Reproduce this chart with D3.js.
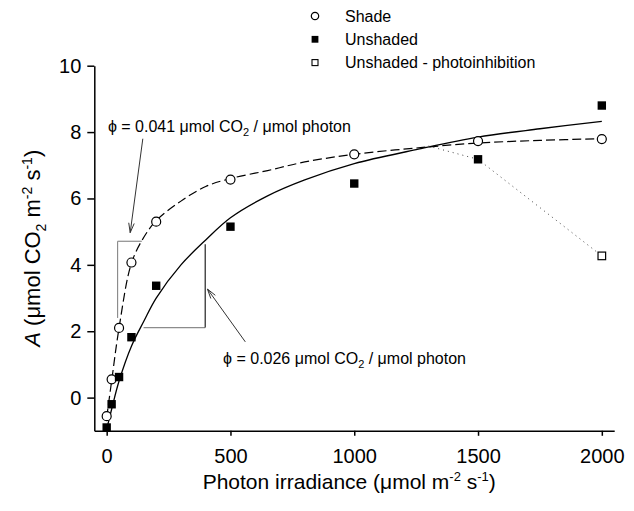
<!DOCTYPE html>
<html>
<head>
<meta charset="utf-8">
<script src="https://cdn.jsdelivr.net/npm/d3@7"></script>
<style>
  body { margin: 0; background: #fff; }
  text { font-family: "Liberation Sans", Arial, sans-serif; fill: #000; }
</style>
</head>
<body>
<script>
// measured points
const irradiance = [0, 20, 50, 100, 200, 500, 1000, 1500, 2000];
const shadeA     = [-0.56, 0.55, 2.1, 4.07, 5.3, 6.57, 7.33, 7.73, 7.79];
const unshadedA  = [-0.9, -0.2, 0.62, 1.82, 3.37, 5.15, 6.45, 7.18, 8.8];
const inhibX = [2000];
const inhibA = [4.27];

// fitted curves
const fitX        = [0, 20, 50, 100, 150, 200, 300, 400, 500, 650, 800, 1000, 1250, 1500, 1750, 2000];
const shadeFit    = [-0.6, 0.5, 2.1, 4.05, 4.83, 5.33, 5.92, 6.36, 6.6, 6.84, 7.1, 7.33, 7.52, 7.67, 7.75, 7.8];
const unshadedFit = [-0.95, -0.35, 0.5, 1.55, 2.3, 3.0, 4.0, 4.75, 5.42, 6.08, 6.56, 7.05, 7.47, 7.85, 8.1, 8.32];

// photoinhibition dotted line
const inhibLineX = [1300, 1500, 2000];
const inhibLineA = [7.58, 7.18, 4.27];

const xTicks = [0, 500, 1000, 1500, 2000];
const yTicks = [0, 2, 4, 6, 8, 10];

const W = 634, H = 511;
const margin = { top: 65.7, right: 19.8, bottom: 80.2, left: 94.3 };

const svg = d3.select("body").append("svg")
    .attr("width", W)
    .attr("height", H);

const x = d3.scaleLinear().domain([-50, 2050]).range([margin.left, W - margin.right]);
const y = d3.scaleLinear().domain([-1, 10]).range([H - margin.bottom, margin.top]);

// axes
svg.append("g")
    .attr("transform", "translate(0," + (H - margin.bottom) + ")")
    .call(d3.axisBottom(x).tickValues(xTicks).tickFormat(d3.format("d"))
        .tickSize(5).tickSizeOuter(0).tickPadding(13))
    .call(g => g.selectAll("path,line").attr("stroke", "#000").attr("stroke-width", 1.5))
    .call(g => g.selectAll("text").attr("font-size", 20).attr("font-family", "Liberation Sans, Arial, sans-serif"));

svg.append("g")
    .attr("transform", "translate(" + margin.left + ",0)")
    .call(d3.axisLeft(y).tickValues(yTicks).tickFormat(d3.format("d"))
        .tickSize(7).tickSizeOuter(0).tickPadding(6))
    .call(g => g.selectAll("path,line").attr("stroke", "#000").attr("stroke-width", 1.5))
    .call(g => g.selectAll("text").attr("font-size", 20).attr("font-family", "Liberation Sans, Arial, sans-serif"));

// axis titles
const xt = svg.append("text")
    .attr("x", x(1000) - 5)
    .attr("y", 489)
    .attr("text-anchor", "middle")
    .attr("font-size", 21);
xt.append("tspan").text("Photon irradiance (μmol m");
xt.append("tspan").attr("font-size", 13).attr("dy", -8).text("-2");
xt.append("tspan").attr("dy", 8).text(" s");
xt.append("tspan").attr("font-size", 13).attr("dy", -8).text("-1");
xt.append("tspan").attr("dy", 8).text(")");

const yt = svg.append("text")
    .attr("transform", "translate(40," + y(4.5) + ") rotate(-90)")
    .attr("text-anchor", "middle")
    .attr("font-size", 22);
yt.append("tspan").attr("font-style", "italic").text("A");
yt.append("tspan").text(" (μmol CO");
yt.append("tspan").attr("font-size", 14).attr("dy", 6).text("2");
yt.append("tspan").attr("dy", -6).text(" m");
yt.append("tspan").attr("font-size", 14).attr("dy", -8).text("-2");
yt.append("tspan").attr("dy", 8).text(" s");
yt.append("tspan").attr("font-size", 14).attr("dy", -8).text("-1");
yt.append("tspan").attr("dy", 8).text(")");

// slope triangles
const grey = "#8c8c8c";
const seg = (x1, y1, x2, y2, col) => svg.append("line")
    .attr("x1", x(x1)).attr("y1", y(y1)).attr("x2", x(x2)).attr("y2", y(y2))
    .attr("stroke", col).attr("stroke-width", 1.2);
seg(44, 2.4, 44, 4.71, grey);
seg(44, 4.71, 142, 4.71, grey);
seg(149, 2.11, 398, 2.11, grey);
seg(398, 2.11, 398, 4.62, "#222");

// curves
const line = d3.line().x(d => x(d[0])).y(d => y(d[1])).curve(d3.curveCatmullRom.alpha(0.5));

svg.append("path")
    .attr("d", line(d3.zip(fitX, shadeFit)))
    .attr("fill", "none").attr("stroke", "#000").attr("stroke-width", 1.2)
    .attr("stroke-dasharray", "9,4");

svg.append("path")
    .attr("d", line(d3.zip(fitX, unshadedFit)))
    .attr("fill", "none").attr("stroke", "#000").attr("stroke-width", 1.3);

svg.append("path")
    .attr("d", d3.line().x(d => x(d[0])).y(d => y(d[1]))(d3.zip(inhibLineX, inhibLineA)))
    .attr("fill", "none").attr("stroke", "#444").attr("stroke-width", 1)
    .attr("stroke-dasharray", "1,4");

// arrows
function arrow(x1, y1, x2, y2) {
    const ang = Math.atan2(y2 - y1, x2 - x1), L = 10, a = 0.28;
    svg.append("line").attr("x1", x1).attr("y1", y1).attr("x2", x2).attr("y2", y2)
        .attr("stroke", "#333").attr("stroke-width", 1);
    [ang + a, ang - a].forEach(t => svg.append("line")
        .attr("x1", x2).attr("y1", y2)
        .attr("x2", x2 - L * Math.cos(t)).attr("y2", y2 - L * Math.sin(t))
        .attr("stroke", "#333").attr("stroke-width", 1));
}
arrow(x(146), y(7.8), x(95), y(4.97));
arrow(x(560), y(1.68), x(407), y(3.27));

// annotations
function phiLabel(px, py, val) {
    const t = svg.append("text").attr("x", px).attr("y", py).attr("font-size", 16);
    t.append("tspan").text("ϕ = " + val + " μmol CO");
    t.append("tspan").attr("font-size", 11).attr("dy", 4).text("2");
    t.append("tspan").attr("dy", -4).text(" / μmol photon");
}
phiLabel(x(5), y(8.0), "0.041");
phiLabel(x(470), y(1.0), "0.026");

// points
svg.append("g").selectAll("circle")
    .data(d3.zip(irradiance, shadeA))
  .enter().append("circle")
    .attr("cx", d => x(d[0])).attr("cy", d => y(d[1])).attr("r", 4.5)
    .attr("fill", "#fff").attr("stroke", "#000").attr("stroke-width", 1.2);

svg.append("g").selectAll("rect")
    .data(d3.zip(irradiance, unshadedA))
  .enter().append("rect")
    .attr("x", d => x(d[0]) - 4.2).attr("y", d => y(d[1]) - 4.2)
    .attr("width", 8.4).attr("height", 8.4)
    .attr("fill", "#000");

svg.append("g").selectAll("rect")
    .data(d3.zip(inhibX, inhibA))
  .enter().append("rect")
    .attr("x", d => x(d[0]) - 3.8).attr("y", d => y(d[1]) - 3.8)
    .attr("width", 7.6).attr("height", 7.6)
    .attr("fill", "#fff").attr("stroke", "#000").attr("stroke-width", 1.2);

// legend
const legend = [
    { label: "Shade", kind: "circle" },
    { label: "Unshaded", kind: "filled" },
    { label: "Unshaded - photoinhibition", kind: "open" }
];
const lg = svg.append("g").selectAll("g")
    .data(legend)
  .enter().append("g")
    .attr("transform", (d, i) => "translate(315," + (16 + i * 23.3) + ")");
lg.each(function(d) {
    const g = d3.select(this);
    if (d.kind === "circle") {
        g.append("circle").attr("r", 3.7).attr("fill", "#fff").attr("stroke", "#000").attr("stroke-width", 1.2);
    } else if (d.kind === "filled") {
        g.append("rect").attr("x", -3.4).attr("y", -3.4).attr("width", 6.8).attr("height", 6.8).attr("fill", "#000");
    } else {
        g.append("rect").attr("x", -3).attr("y", -3).attr("width", 6).attr("height", 6)
            .attr("fill", "#fff").attr("stroke", "#000").attr("stroke-width", 1.1);
    }
    g.append("text").attr("x", 30).attr("y", 5.7).attr("font-size", 16).text(d.label);
});
</script>
</body>
</html>
